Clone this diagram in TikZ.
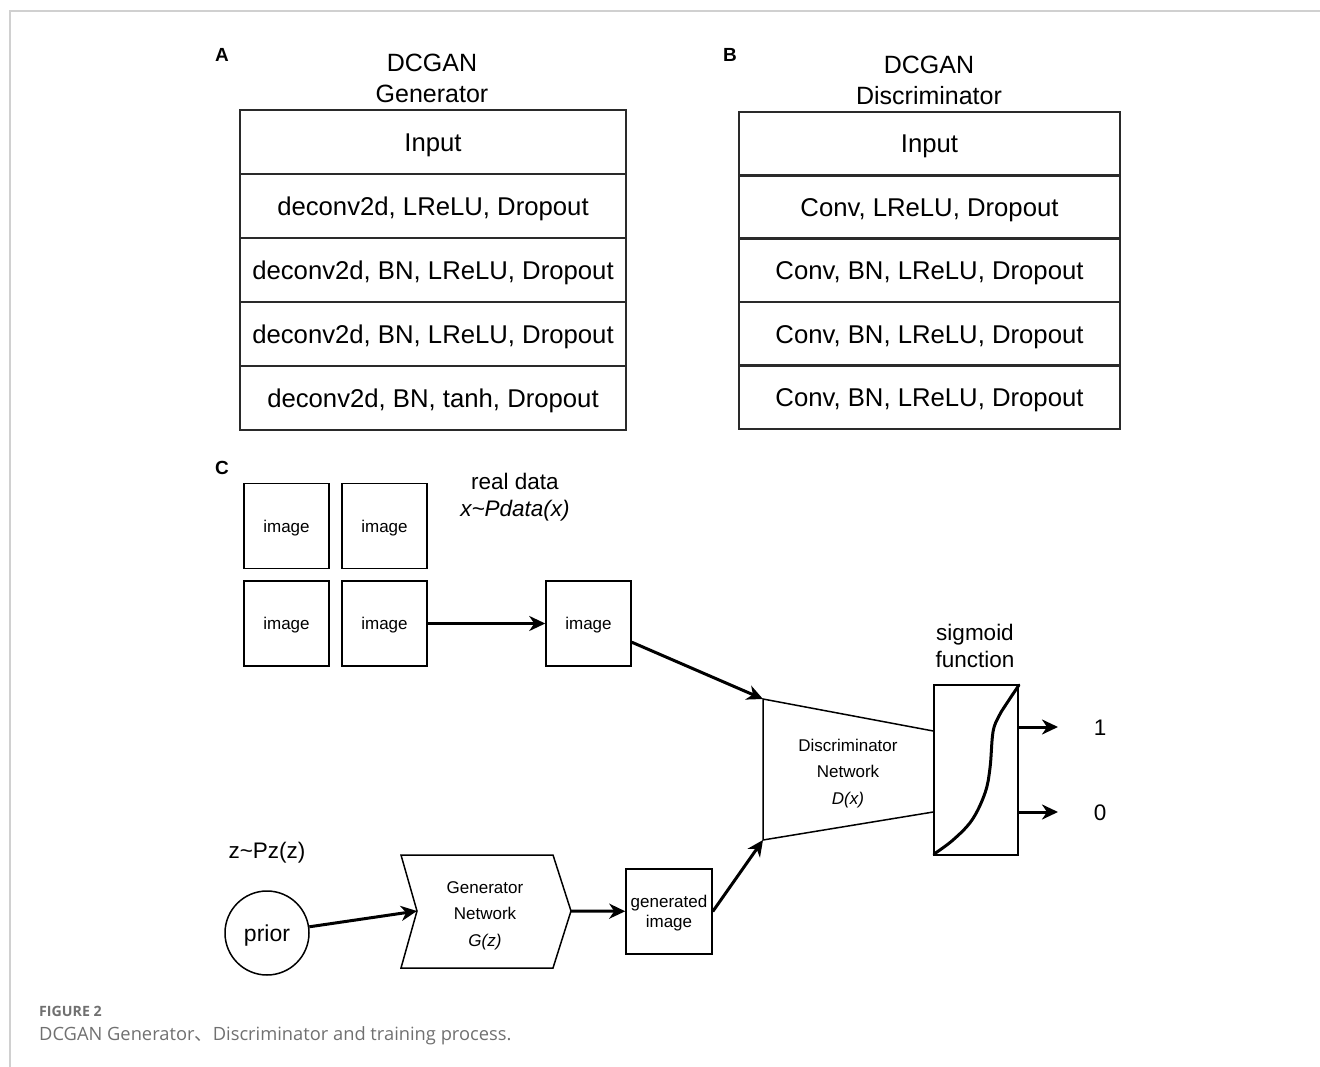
\documentclass[tikz,border=0pt]{standalone}
\usepackage{fontspec}
\setmainfont{Liberation Sans}
\newfontfamily\capfont{Open Sans}
\newfontfamily\cjkfont{Noto Sans CJK SC}
\usetikzlibrary{arrows.meta,calc}
\definecolor{framegray}{HTML}{D0D0D0}
\definecolor{capgray}{HTML}{707070}
\definecolor{tabline}{HTML}{2A2A2A}
\begin{document}
\begin{tikzpicture}[x=1pt,y=-1pt,
  tabrowA/.style={draw=tabline, line width=2.6pt, minimum width=386pt, minimum height=64pt, inner sep=0pt,
    font=\fontsize{25.7}{30}\selectfont, text height=18.4pt, text depth=0pt},
  tabrowB/.style={tabrowA, minimum width=381pt, minimum height=63.4pt},
  title/.style={anchor=base, inner sep=0pt, font=\fontsize{25}{30}\selectfont},
  panel/.style={anchor=base, inner sep=0pt, font=\fontsize{19}{22}\selectfont\bfseries},
  imgbox/.style={draw, line width=1.5pt, minimum width=85pt, minimum height=85pt, inner sep=0pt,
    font=\fontsize{17}{20}\selectfont, text height=12.2pt, text depth=0pt},
  lbl/.style={anchor=base, inner sep=0pt, font=\fontsize{22.5}{26}\selectfont},
  small/.style={anchor=base, inner sep=0pt, font=\fontsize{17}{20}\selectfont},
  shp/.style={draw, line width=1.5pt},
  arr/.style={line width=3pt, -{Stealth[length=16pt,width=15pt,inset=5pt]}},
]
\useasboundingbox (0,0) rectangle (1320,1067);
% frame
\draw[framegray, line width=1.5pt] (1320,11) -- (10,11) -- (10,1067);

% ---------- Panel A ----------
\node[panel] (labA) at (222,62) {A};
\node[title] (tA1) at (432,72) {DCGAN};
\node[title] (tA2) at (432,103) {Generator};
\node[tabrowA] (a1) at (433,142) {Input};
\node[tabrowA] (a2) at (433,206) {deconv2d, LReLU, Dropout};
\node[tabrowA] (a3) at (433,270) {deconv2d, BN, LReLU, Dropout};
\node[tabrowA] (a4) at (433,334) {deconv2d, BN, LReLU, Dropout};
\node[tabrowA] (a5) at (433,398) {deconv2d, BN, tanh, Dropout};

% ---------- Panel B ----------
\node[panel] (labB) at (730,62) {B};
\node[title] (tB1) at (929,74) {DCGAN};
\node[title] (tB2) at (929,105) {Discriminator};
\node[tabrowB] (b1) at (929.5,143.7) {Input};
\node[tabrowB] (b2) at (929.5,207.1) {Conv, LReLU, Dropout};
\node[tabrowB] (b3) at (929.5,270.5) {Conv, BN, LReLU, Dropout};
\node[tabrowB] (b4) at (929.5,333.9) {Conv, BN, LReLU, Dropout};
\node[tabrowB] (b5) at (929.5,397.3) {Conv, BN, LReLU, Dropout};

% ---------- Panel C ----------
\node[panel] (labC) at (222,474) {C};
\node[imgbox] (i1) at (286.5,526) {image};
\node[imgbox] (i2) at (384.5,526) {image};
\node[imgbox] (i3) at (286.5,623.5) {image};
\node[imgbox] (i4) at (384.5,623.5) {image};
\node[imgbox] (i5) at (588.5,623.5) {image};
\node[lbl] (rd1) at (515,489) {real data};
\node[lbl] (rd2) at (515,516) {\itshape x\textasciitilde Pdata(x)};

% discriminator trapezoid
\coordinate (dtl) at (763,699);
\coordinate (dbl) at (763,840);
\node[shp, minimum width=84pt, minimum height=170pt, inner sep=0pt] (sig) at (976,770) {};
\draw[shp] (sig.west |- 0,731) -- (dtl) -- (dbl) -- (sig.west |- 0,812);
\node[small] (d1) at (848,751) {Discriminator};
\node[small] (d2) at (848,777) {Network};
\node[small] (d3) at (848,804) {\itshape D(x)};

% sigmoid curve
\draw[line width=3pt, line cap=round] plot[smooth, tension=0.6] coordinates
  {(934,854) (953,840) (972,820) (985,793) (990,768) (993,732) (999,716) (1007,703) (1019,685)};
\node[lbl] (s1) at (975,640) {sigmoid};
\node[lbl] (s2) at (975,667) {function};

\coordinate (o1) at (1058,727);
\coordinate (o0) at (1058,812);
\draw[arr] (sig.east |- o1) -- (o1);
\draw[arr] (sig.east |- o0) -- (o0);
\node[inner sep=0pt, font=\fontsize{22.5}{26}\selectfont, text height=16pt, text depth=0pt] (one) at (1100,727) {1};
\node[inner sep=0pt, font=\fontsize{22.5}{26}\selectfont, text height=16pt, text depth=0pt] (zero) at (1100,812) {0};

% generator side
\node[lbl] (pz) at (267,858) {z\textasciitilde Pz(z)};
\node[shp, circle, minimum size=84pt, inner sep=0pt, font=\fontsize{23}{26}\selectfont, text height=16.5pt, text depth=0pt] (prior) at (267,933) {prior};
\coordinate (gl) at (417,911);
\coordinate (gr) at (571,911);
\draw[shp, line join=miter] (401,855) -- (553,855) -- (gr) -- (553,968) -- (401,968) -- (gl) -- cycle;
\node[small] (g1) at (485,893) {Generator};
\node[small] (g2) at (485,919) {Network};
\node[small] (g3) at (485,946) {\itshape G(z)};
\node[shp, minimum width=86pt, minimum height=85pt, inner sep=0pt] (gen) at (669,911.5) {};
\node[small] (gen1) at (669,907) {generated};
\node[small] (gen2) at (669,927) {image};

% connectors
\draw[arr] (i4) -- (i5);
\draw[arr] (i5) -- (dtl);
\draw[arr] (prior) -- (gl);
\draw[arr] (gr) -- (gen);
\draw[arr] (gen.east) -- (dbl);

% caption
\node[anchor=base west, inner sep=0pt, text=capgray, font=\capfont\fontsize{14.2}{16}\selectfont\bfseries] (fig) at (39,1016) {FIGURE 2};
\node[anchor=base west, inner sep=0pt, text=capgray, font=\capfont\fontsize{18.3}{21}\selectfont] (cap) at (39,1040) {DCGAN Generator{\cjkfont 、}Discriminator and training process.};
\end{tikzpicture}
\end{document}
